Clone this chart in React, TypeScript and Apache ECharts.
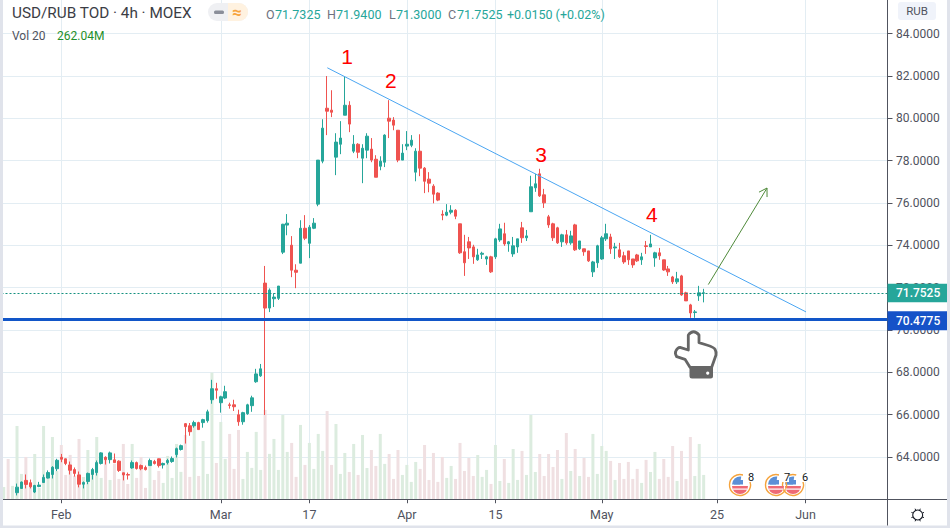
import React, { useEffect, useRef } from "react";
import * as echarts from "echarts";

const tickIndexes = [13, 49, 69, 91, 111, 135, 161, 181];
const tickLabels = ["Feb", "Mar", "17", "Apr", "15", "May", "25", "Jun"];
const slotCount = 200;

const opens = [61.5,61.7,61.6,62.31,62.51,62.89,62.78,62.34,62.60,62.79,63.00,63.17,63.44,63.98,63.91,63.62,63.40,63.15,62.71,62.84,63.17,63.26,63.69,63.98,63.87,63.86,63.80,63.25,63.17,63.48,63.73,63.59,63.50,63.59,63.78,63.91,63.62,63.73,63.78,64.11,64.35,65.57,65.47,65.47,65.62,65.62,65.71,66.70,67.22,66.56,66.78,66.46,66.46,65.99,65.66,66.04,66.42,67.55,67.83,72.21,71.03,71.47,71.49,73.67,74.95,74.0,72.82,73.15,74.80,74.09,74.80,75.94,77.97,80.47,80.38,78.16,78.77,80.14,80.61,78.44,78.77,78.11,78.49,78.54,78.06,77.73,77.92,80.0,79.91,79.43,78.02,78.68,78.72,77.45,78.44,77.64,77.12,76.79,76.46,75.46,75.42,75.56,75.65,75.01,73.69,74.16,73.92,73.31,73.57,73.35,73.45,73.45,74.25,74.54,74.06,73.59,73.92,74.82,74.35,75.58,76.71,77.37,76.38,75.34,75.01,74.82,74.16,74.49,74.11,74.96,73.83,73.83,73.73,72.74,73.17,73.35,74.30,74.39,73.87,73.78,73.50,73.73,73.35,73.54,73.31,73.97,73.92,73.40,73.64,73.31,72.88,72.50,72.27,72.55,71.75,71.18,70.82,71.61,71.7325];
const closes = [61.7,61.5,61.9,62.57,62.81,62.70,62.59,62.65,62.67,63.03,63.26,63.51,63.84,63.89,63.69,63.37,63.22,62.71,62.79,63.22,63.40,63.73,64.19,63.87,64.19,63.73,63.36,63.15,63.14,63.73,63.45,63.44,63.40,63.83,63.69,63.59,63.69,63.83,63.92,64.39,64.53,65.43,65.19,65.62,65.29,65.76,66.13,67.22,67.15,66.84,67.08,66.43,66.37,65.66,66.09,66.46,66.79,67.92,68.16,71.03,71.88,71.55,72.07,74.99,75.04,72.82,72.72,74.80,74.33,74.85,75.04,78.02,79.53,80.33,80.28,78.87,79.06,80.61,79.72,78.77,78.39,78.58,79.15,78.02,77.21,77.97,79.20,79.86,79.67,78.02,78.35,78.77,78.96,78.44,77.64,77.02,76.93,76.41,76.13,75.42,75.56,75.65,75.37,73.64,73.17,73.87,73.45,73.54,73.62,73.45,72.74,74.30,74.77,74.06,74.16,73.97,74.30,74.35,74.44,76.76,76.90,76.33,76.0,74.96,74.35,74.11,74.49,74.11,74.44,73.78,74.20,73.69,73.26,73.21,73.97,74.35,74.54,73.83,73.92,73.45,73.21,73.31,73.07,73.26,73.45,73.94,74.06,73.64,73.50,72.83,72.74,72.27,72.41,71.65,71.37,70.80,70.85,71.75,71.7525];
const lows = [61.4,61.4,61.5,62.18,62.51,62.51,62.51,62.29,62.57,62.79,62.98,62.98,63.33,63.75,63.61,63.17,63.07,62.56,62.51,62.71,62.93,63.12,63.64,63.64,63.69,63.72,63.29,62.89,62.93,63.44,63.40,63.37,63.36,63.59,63.64,63.50,63.45,63.64,63.72,63.97,64.30,64.63,65.00,65.38,65.29,65.38,65.62,66.51,66.75,66.09,66.73,66.28,66.17,65.47,65.52,65.99,66.13,67.50,67.78,65.98,70.84,71.08,71.41,73.58,74.47,72.49,71.97,73.15,74.24,73.39,74.76,75.84,77.87,79.20,80.05,77.31,78.30,80.14,79.34,78.35,78.11,76.93,78.11,77.92,77.21,77.54,77.69,79.06,79.43,77.92,78.02,78.49,78.63,77.02,77.26,76.46,76.50,75.98,76.08,75.18,75.37,75.46,75.23,73.59,72.55,73.35,73.12,73.26,73.35,73.07,72.69,73.35,74.16,73.97,73.69,73.45,73.64,74.11,74.20,75.58,76.52,76.28,75.76,74.82,74.20,74.06,73.92,74.02,74.02,73.73,73.78,73.50,73.21,72.50,72.93,73.31,74.20,73.59,73.35,73.40,73.12,73.07,72.93,73.21,73.07,73.59,73.92,72.98,73.31,72.79,72.55,72.17,72.17,71.61,71.37,70.57,70.57,71.37,71.30];
const highs = [61.8,61.8,61.95,62.74,62.84,63.17,62.93,62.68,62.82,63.17,63.36,63.56,63.91,64.14,63.92,63.78,63.50,63.31,62.84,63.26,63.48,63.83,64.22,64.03,64.25,64.16,63.84,63.25,63.26,63.83,63.78,63.64,63.59,63.92,63.86,63.92,63.73,63.91,64.02,64.44,64.58,65.60,65.60,65.71,65.66,65.80,66.23,67.64,67.50,66.89,67.36,66.56,66.70,66.23,66.13,66.51,66.89,68.16,68.39,73.02,71.96,71.73,72.07,75.01,75.47,74.43,73.10,75.18,75.42,74.95,75.28,78.02,79.95,81.99,81.32,79.29,79.86,81.97,80.80,79.20,78.82,78.77,79.29,79.06,78.25,78.20,79.24,80.85,80.05,79.43,78.77,79.39,79.20,78.58,79.24,77.69,77.45,76.88,76.50,75.65,75.94,75.89,75.70,75.01,74.49,74.39,74.02,73.83,73.69,73.50,73.50,74.35,75.01,75.06,74.20,74.39,74.30,75.10,74.72,77.28,77.37,77.61,76.66,75.43,75.06,74.87,74.54,74.72,74.68,75.01,74.20,73.83,73.73,73.26,74.02,74.44,75.01,74.54,74.11,74.11,73.69,73.73,73.35,73.59,73.64,74.20,74.49,73.69,73.87,73.31,73.02,72.55,72.74,72.60,71.80,71.23,70.94,72.08,71.94];
const volumes = [133,435,144,790,273,456,158,488,122,790,262,671,305,585,262,478,251,650,240,531,316,671,230,424,208,381,219,596,165,596,230,456,122,391,208,305,176,467,230,596,295,693,241,801,251,628,273,1365,391,833,435,704,327,747,219,510,338,726,316,963,489,650,316,909,510,607,241,801,370,607,327,704,521,951,370,811,273,499,294,596,262,693,337,531,359,704,381,488,219,531,262,370,187,402,327,585,208,499,187,456,230,359,219,607,305,445,251,477,241,316,165,585,197,434,176,542,208,521,262,908,294,488,251,488,348,531,219,714,305,542,251,445,241,704,273,574,521,413,208,391,219,402,219,327,176,424,294,510,219,434,241,574,197,521,219,671,251,596,262.04];

const lastPrice = 71.7525;
const supportPrice = 70.4775;
const trendLine = [[73.05, 82.38], [181.1, 70.85]];
const arrowLine = [[159.05, 72.14], [172.3, 76.7]];
const wavePositions = [[77.5, 82.89], [87.4, 81.8], [121.3, 78.3], [146.3, 75.45]];
const waveNumbers = ["1", "2", "3", "4"];

const UP = "#26a69a";
const DOWN = "#ef5350";
const GRID = "#e3edf3";
const AXIS = "#50535e";
const BORDER = "#e0e3eb";
const FONT = "Roboto, 'Open Sans', sans-serif";

echarts.graphic.registerShape(
  "handOutline",
  echarts.graphic.extendPath(
    "M688.3 350 L688.3 335 Q693.5 328.5 699 335 L699 342.7 L706.7 345 Q714.5 347.5 715 349.3 Q716.5 352 716 355 L711.7 367.3 L690 367.3 L685 359.3 L676.7 356.7 Q674.5 353 676 350.7 Q677.5 347.5 680 347.3 Z",
    {}
  )
);
echarts.graphic.registerShape(
  "handBase",
  echarts.graphic.extendPath(
    "M689.5 367 L713 367 L713 376 Q713 378.5 710.5 378.5 L692 378.5 Q689.5 378.5 689.5 376 Z",
    {}
  )
);

function textEl(text: string, x: number, y: number, fill: string, size = 12, align = "left", weight = "normal") {
  return {
    type: "text",
    z: 60,
    style: { text, x, y, fill, font: `${weight} ${size}px ${FONT}`, textAlign: align, textVerticalAlign: "middle" },
  };
}

function flagIcon(cx: number, cy: number, num: string, numX: number) {
  return [
    { type: "circle", z: 55, shape: { cx, cy, r: 9 }, style: { fill: "#ffffff" } },
    { type: "arc", z: 56, shape: { cx, cy, r: 10.5, startAngle: -0.5, endAngle: Math.PI * 1.6, clockwise: true }, style: { stroke: "#f5a33c", lineWidth: 1.4, fill: "none" } },
    { type: "sector", z: 56, shape: { cx, cy: cy + 1, r: 8, startAngle: 0, endAngle: Math.PI }, style: { fill: "#ee6a75" } },
    { type: "rect", z: 57, shape: { x: cx - 7.5, y: cy + 3.5, width: 15, height: 1.2 }, style: { fill: "#ffffff" } },
    { type: "sector", z: 56, shape: { cx, cy: cy - 0.5, r: 8, startAngle: Math.PI, endAngle: Math.PI * 1.55 }, style: { fill: "#5b8fd6" } },
    { type: "rect", z: 56, shape: { x: cx - 6, y: cy - 5, width: 9, height: 4.5 }, style: { fill: "#5b8fd6" } },
    { type: "rect", z: 58, shape: { x: numX - 5, y: cy - 14, width: 10, height: 11 }, style: { fill: "#ffffff" } },
    textEl(num, numX, cy - 8, "#131722", 11),
  ];
}

const gearTeeth = Array.from({ length: 8 }, (_, k) => k);

export default function App() {
  const ref = useRef<HTMLDivElement>(null);

  useEffect(() => {
    document.body.style.margin = "0";
    const chart = echarts.init(ref.current!, undefined, { renderer: "svg" });
    const categories = Array.from({ length: slotCount }, (_, i) => {
      const at = tickIndexes.indexOf(i);
      return at >= 0 ? tickLabels[at] : "";
    });
    const showTick = (i: number) => tickIndexes.includes(i);

    const renderOverlay = (_: any, api: any) => {
      const band = api.size([1, 0])[0];
      const at = (p: number[]) => {
        const base = Math.floor(p[0]);
        const c = api.coord([base, p[1]]);
        return [c[0] + (p[0] - base) * band, c[1]];
      };
      const trendA = at(trendLine[0]);
      const trendB = at(trendLine[1]);
      const arrowA = at(arrowLine[0]);
      const arrowB = at(arrowLine[1]);
      const ang = Math.atan2(arrowB[1] - arrowA[1], arrowB[0] - arrowA[0]);
      const headLen = 9;
      const headA = [arrowB[0] - headLen * Math.cos(ang - 0.55), arrowB[1] - headLen * Math.sin(ang - 0.55)];
      const headB = [arrowB[0] - headLen * Math.cos(ang + 0.55), arrowB[1] - headLen * Math.sin(ang + 0.55)];
      return {
        type: "group",
        children: [
          { type: "line", shape: { x1: trendA[0], y1: trendA[1], x2: trendB[0], y2: trendB[1] }, style: { stroke: "#4ba6f2", lineWidth: 1 } },
          { type: "polyline", shape: { points: [arrowA, arrowB] }, style: { stroke: "#4f8a3a", lineWidth: 1, fill: "none" } },
          { type: "polyline", shape: { points: [headA, arrowB, headB] }, style: { stroke: "#4f8a3a", lineWidth: 1, fill: "none" } },
          ...wavePositions.map((p, k) => {
            const c = at(p);
            return {
              type: "text",
              style: { text: waveNumbers[k], x: c[0], y: c[1], fill: "#ff0000", font: "21px 'Liberation Sans', Arial, sans-serif", textAlign: "center", textVerticalAlign: "middle" },
            };
          }),
        ],
      };
    };

    const pxPerUnit = 21.17;
    const priceY = (p: number) => 33.5 + (84 - p) * pxPerUnit;

    chart.setOption({
      animation: false,
      backgroundColor: "#ffffff",
      grid: { left: 1.5, width: 886, top: -8.84, height: 508.08, containLabel: false, outerBoundsMode: "none" },
      xAxis: {
        type: "category",
        data: categories,
        axisLine: { show: false },
        axisTick: { show: true, alignWithLabel: true, length: 4, interval: showTick, lineStyle: { color: AXIS } },
        axisLabel: { show: true, interval: showTick, color: AXIS, fontSize: 12.5, fontFamily: FONT, margin: 9 },
        splitLine: { show: true, alignWithLabel: true, interval: showTick, lineStyle: { color: GRID, width: 1 } },
      },
      yAxis: [
        {
          type: "value",
          position: "right",
          min: 62,
          max: 86,
          interval: 2,
          axisLine: { show: false },
          axisTick: { show: true, length: 5, lineStyle: { color: AXIS } },
          axisLabel: { color: AXIS, fontSize: 12, fontFamily: FONT, margin: 8.5, showMinLabel: false, showMaxLabel: false, formatter: (v: number) => v.toFixed(4) },
          splitLine: { show: true, lineStyle: { color: GRID, width: 1 } },
        },
        { type: "value", show: false, min: 0, max: 5477, splitLine: { show: false } },
      ],
      series: [
        {
          type: "bar",
          yAxisIndex: 1,
          z: 1,
          barWidth: 3,
          data: volumes.map((v, i) => ({
            value: v,
            itemStyle: { color: closes[i] >= opens[i] ? "#dcecdf" : "#f0e0e2" },
          })),
        },
        {
          type: "candlestick",
          yAxisIndex: 0,
          z: 2,
          barWidth: 3,
          data: opens.map((o, i) => [o, closes[i], lows[i], highs[i]]),
          itemStyle: { color: UP, color0: DOWN, borderColor: UP, borderColor0: DOWN, borderWidth: 1 },
          markLine: {
            silent: true,
            symbol: "none",
            label: { show: false },
            z: 3,
            data: [
              { yAxis: lastPrice, lineStyle: { color: "#14907f", type: [2, 2], width: 1 } },
              { yAxis: supportPrice, lineStyle: { color: "#1256c8", type: "solid", width: 3 } },
            ],
          },
        },
        {
          type: "custom",
          z: 4,
          clip: false,
          silent: true,
          data: [[0, 0]],
          renderItem: renderOverlay,
          yAxisIndex: 0,
        },
      ],
      graphic: [
        { type: "rect", z: 50, shape: { x: 0, y: 0, width: 3, height: 528 }, style: { fill: BORDER } },
        { type: "rect", z: 50, shape: { x: 947, y: 0, width: 3, height: 528 }, style: { fill: BORDER } },
        { type: "rect", z: 50, shape: { x: 0, y: 525.5, width: 950, height: 2.5 }, style: { fill: BORDER } },
        { type: "line", z: 51, shape: { x1: 3, y1: 499.5, x2: 947, y2: 499.5 }, style: { stroke: AXIS, lineWidth: 1 } },
        { type: "line", z: 51, shape: { x1: 887.5, y1: 0, x2: 887.5, y2: 525.5 }, style: { stroke: AXIS, lineWidth: 1 } },

        textEl("USD/RUB TOD · 4h · MOEX", 12, 13, "#3b3d45", 15.3),
        { type: "rect", z: 52, shape: { x: 208, y: 3, width: 40, height: 18, r: 9 }, style: { fill: "#eff0f3" } },
        { type: "rect", z: 53, shape: { x: 228, y: 3, width: 20, height: 18, r: [0, 9, 9, 0] }, style: { fill: "#fff2e0" } },
        { type: "rect", z: 54, shape: { x: 214, y: 10.5, width: 10, height: 3.5, r: 1.5 }, style: { fill: "#8a8e99" } },
        textEl("≈", 237, 12, "#f7a43d", 17, "center", "bold"),
        textEl("O", 266, 14, "#6f7280", 12.5),
        textEl("71.7325", 275, 14, UP, 12.5),
        textEl("H", 327, 14, "#6f7280", 12.5),
        textEl("71.9400", 336, 14, UP, 12.5),
        textEl("L", 389, 14, "#6f7280", 12.5),
        textEl("71.3000", 396, 14, UP, 12.5),
        textEl("C", 448, 14, "#6f7280", 12.5),
        textEl("71.7525", 457, 14, UP, 12.5),
        textEl("+0.0150 (+0.02%)", 507, 14, UP, 12.5),
        textEl("Vol 20", 12, 36, "#50535e", 12),
        textEl("262.04M", 57, 36, "#1f8f2b", 12),

        { type: "rect", z: 52, shape: { x: 898, y: 2, width: 38, height: 18, r: 3 }, style: { fill: "#f0f3fa" } },
        textEl("RUB", 917, 11, AXIS, 11.5, "center"),

        { type: "rect", z: 52, shape: { x: 887.5, y: priceY(lastPrice) - 9, width: 59.5, height: 18.5 }, style: { fill: UP } },
        textEl(lastPrice.toFixed(4), 896, priceY(lastPrice) + 0.5, "#ffffff", 12, "left", "500"),
        { type: "rect", z: 52, shape: { x: 887.5, y: priceY(supportPrice) - 8.5, width: 59.5, height: 19 }, style: { fill: "#1552c8" } },
        textEl(supportPrice.toFixed(4), 896, priceY(supportPrice) + 1, "#ffffff", 12, "left", "500"),

        { type: "handOutline", z: 54, style: { fill: "#ffffff", stroke: "#666666", lineWidth: 2.8, lineJoin: "round" } },
        { type: "handBase", z: 55, style: { fill: "#666666" } },
        { type: "circle", z: 56, shape: { cx: 707.7, cy: 373.2, r: 1.6 }, style: { fill: "#ffffff" } },

        ...flagIcon(793, 485, "6", 802),
        ...flagIcon(776, 485, "7", 784),
        ...flagIcon(740, 485, "8", 748),

        { type: "circle", z: 53, shape: { cx: 917.7, cy: 515, r: 5 }, style: { fill: "#ffffff", stroke: "#131722", lineWidth: 1.1 } },
        ...gearTeeth.map((k) => {
          const a = (k * Math.PI) / 4 + Math.PI / 8;
          return {
            type: "line",
            z: 53,
            shape: {
              x1: 917.7 + 5 * Math.cos(a),
              y1: 515 + 5 * Math.sin(a),
              x2: 917.7 + 6.8 * Math.cos(a),
              y2: 515 + 6.8 * Math.sin(a),
            },
            style: { stroke: "#131722", lineWidth: 1 },
          };
        }),
      ],
    });
    return () => chart.dispose();
  }, []);

  return <div ref={ref} style={{ width: 950, height: 528 }} />;
}
